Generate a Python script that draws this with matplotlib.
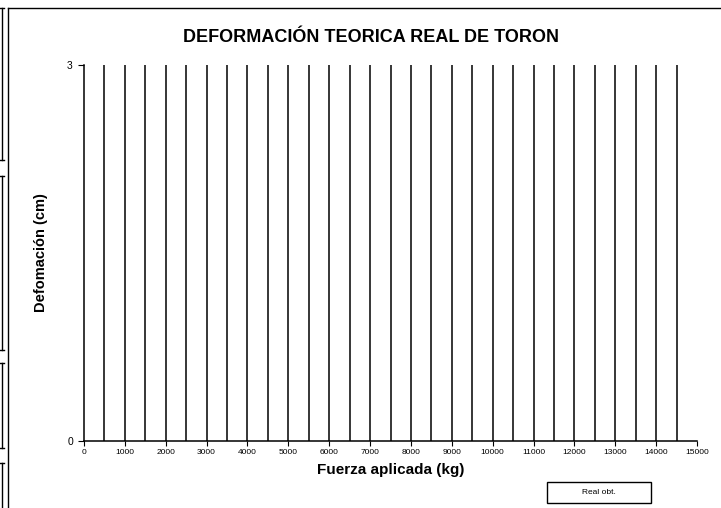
import matplotlib
matplotlib.use("Agg")
import matplotlib.pyplot as plt
from matplotlib.lines import Line2D
from matplotlib.patches import Rectangle

plt.rcParams["font.family"] = ["Liberation Sans", "DejaVu Sans"]

# data
forces = [500, 1000, 1500, 2000, 2500, 3000, 3500, 4000, 4500, 5000, 5500, 6000, 6500,
          7000, 7500, 8000, 8500, 9000, 9500, 10000, 10500, 11000, 11500, 12000, 12500,
          13000, 13500, 14000, 14500]
heights = [3] * len(forces)
xticks = [0, 1000, 2000, 3000, 4000, 5000, 6000, 7000, 8000, 9000, 10000, 11000, 12000,
          13000, 14000, 15000]
yticks = [0, 3]
legend_label = "Real obt."

fig = plt.figure(figsize=(7.21, 5.08), dpi=100)
ax = fig.add_axes([84/721, 1-441/508, 613/721, 376/508])

ax.vlines(forces, 0, heights, color="black", lw=1.1)

ax.set_xlim(0, 15000)
ax.set_ylim(0, 3)
ax.set_xticks(xticks)
ax.set_xticklabels([str(t) for t in xticks], fontsize=6)
ax.set_yticks(yticks)
ax.set_yticklabels([str(t) for t in yticks], fontsize=7.5)
ax.tick_params(axis="x", length=3.5, width=0.8, pad=2)
ax.tick_params(axis="y", length=4, width=0.8, pad=4)
for s in ["top", "right"]:
    ax.spines[s].set_visible(False)
for s in ["left", "bottom"]:
    ax.spines[s].set_linewidth(1.1)

ax.set_xlabel("Fuerza aplicada (kg)", fontsize=11, fontweight="bold", labelpad=5)
ax.set_ylabel("Defomación (cm)", fontsize=10.5, fontweight="bold", labelpad=14)
fig.text(371/721, 1-38/508, "DEFORMACIÓN TEORICA REAL DE TORON", fontsize=13,
         fontweight="bold", ha="center", va="center")

# legend box
fig.add_artist(Rectangle((547/721, 1-503/508), 104/721, 21/508, fill=False,
                         edgecolor="black", lw=1.0, transform=fig.transFigure))
fig.text(599/721, 1-492/508, legend_label, fontsize=6, ha="center", va="center")

# outer chart frame (top and left edges visible)
fig.add_artist(Line2D([8/721, 8/721], [0, 1-8/508], color="black", lw=1.0,
                      transform=fig.transFigure))
fig.add_artist(Line2D([8/721, 1], [1-8/508, 1-8/508], color="black", lw=1.0,
                      transform=fig.transFigure))

# cropped brackets on the far left edge
for y0, y1 in [(8, 160), (176, 350), (363, 448), (463, 510)]:
    fig.add_artist(Line2D([2/721, 2/721], [1-y0/508, 1-y1/508], color="black", lw=1.0,
                          transform=fig.transFigure))
    fig.add_artist(Line2D([0, 4/721], [1-y0/508, 1-y0/508], color="black", lw=1.0,
                          transform=fig.transFigure))
    fig.add_artist(Line2D([0, 4/721], [1-y1/508, 1-y1/508], color="black", lw=1.0,
                          transform=fig.transFigure))

fig.savefig("out.png", dpi=100)
